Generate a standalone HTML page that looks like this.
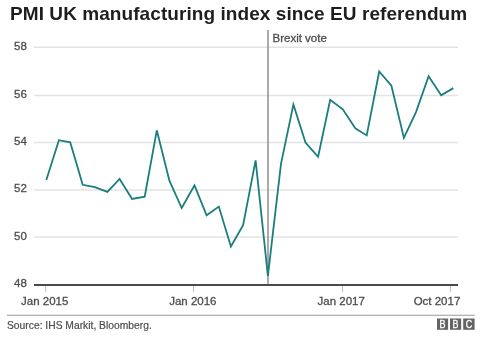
<!DOCTYPE html>
<html><head><meta charset="utf-8">
<style>
html,body{margin:0;padding:0;background:#fff;}
body{width:480px;height:337px;overflow:hidden;position:relative;}
svg{position:absolute;left:0;top:0;will-change:transform;}
text{font-family:"Liberation Sans",sans-serif;}
</style></head>
<body>
<svg width="480" height="337" viewBox="0 0 480 337">
  <text x="10" y="20" font-size="19" font-weight="bold" fill="#1e1e1e" letter-spacing="0.07">PMI UK manufacturing index since EU referendum</text>
  <!-- gridlines -->
  <g stroke="#e3e3e3" stroke-width="1.5">
    <line x1="34" y1="47.3" x2="458" y2="47.3"/>
    <line x1="34" y1="95.6" x2="458" y2="95.6"/>
    <line x1="34" y1="142.5" x2="458" y2="142.5"/>
    <line x1="34" y1="190.1" x2="458" y2="190.1"/>
    <line x1="34" y1="236.9" x2="458" y2="236.9"/>
  </g>
  <g font-size="11.5" fill="#4d4d4d" stroke="#4d4d4d" stroke-width="0.3">
    <text x="14" y="50">58</text>
    <text x="14" y="97.9">56</text>
    <text x="14" y="145">54</text>
    <text x="14" y="192.3">52</text>
    <text x="14" y="239.7">50</text>
    <text x="14" y="287.1">48</text>
  </g>
  <!-- brexit line -->
  <line x1="268" y1="30" x2="268" y2="284" stroke="#8f8f8f" stroke-width="1.5"/>
  <text x="272.5" y="42.3" font-size="11.5" fill="#4d4d4d" stroke="#4d4d4d" stroke-width="0.3">Brexit vote</text>
  <!-- data -->
  <polyline fill="none" stroke="#1b7e7e" stroke-width="1.8" stroke-linejoin="miter" points="46.3,180.1 58.9,140.2 70.2,142.3 82.7,184.8 94.9,187.2 107.4,191.9 119.6,178.9 132.1,199.0 144.7,196.7 156.8,130.3 169.4,180.6 181.7,208.0 194.5,185.3 206.6,215.3 218.8,206.6 230.9,246.5 243.1,225.1 255.6,160.3 267.9,275.8 281.0,163.8 293.4,104.6 305.5,142.5 318.1,156.8 330.2,99.9 342.8,109.3 355.3,128.3 366.7,135.4 379.2,71.5 391.4,85.7 403.9,137.9 416.1,111.8 428.6,76.3 441.2,95.2 453.3,88.1"/>
  <!-- axis -->
  <line x1="34" y1="284.9" x2="458" y2="284.9" stroke="#4a4a4a" stroke-width="2"/>
  <g stroke="#bbb" stroke-width="1">
    <line x1="45.7" y1="286" x2="45.7" y2="292"/>
    <line x1="193.5" y1="286" x2="193.5" y2="292"/>
    <line x1="342.4" y1="286" x2="342.4" y2="292"/>
    <line x1="450.4" y1="286" x2="450.4" y2="292"/>
  </g>
  <g font-size="11.5" fill="#4d4d4d" stroke="#4d4d4d" stroke-width="0.3">
    <text x="21" y="304.7">Jan 2015</text>
    <text x="169.2" y="304.7">Jan 2016</text>
    <text x="317.5" y="304.7">Jan 2017</text>
    <text x="460.3" y="304.7" text-anchor="end">Oct 2017</text>
  </g>
  <line x1="7" y1="315.2" x2="474.7" y2="315.2" stroke="#9a9a9a" stroke-width="1.1"/>
  <text x="7" y="329.1" font-size="10.3" fill="#4d4d4d" stroke="#4d4d4d" stroke-width="0.2">Source: IHS Markit, Bloomberg.</text>
  <!-- BBC blocks -->
  <g fill="#646464">
    <rect x="437" y="318.5" width="11.1" height="11.3"/>
    <rect x="450" y="318.5" width="11.2" height="11.3"/>
    <rect x="463.2" y="318.5" width="11.4" height="11.3"/>
  </g>
  <g font-size="10" fill="#fff" stroke="#fff" stroke-width="0.3" text-anchor="middle">
    <text transform="translate(442.6 327.6) scale(0.9 1)">B</text>
    <text transform="translate(455.6 327.6) scale(0.9 1)">B</text>
    <text transform="translate(469.0 327.6) scale(0.9 1)">C</text>
  </g>
</svg>
</body></html>
